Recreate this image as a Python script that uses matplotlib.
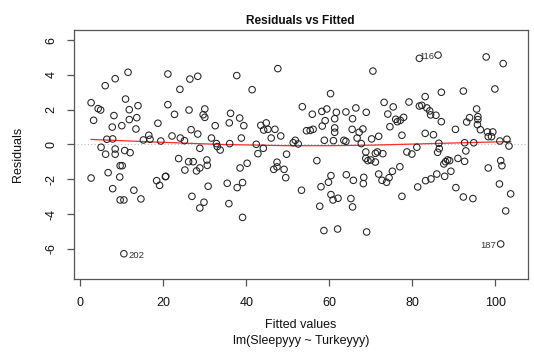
import matplotlib
matplotlib.use("Agg")
import matplotlib.pyplot as plt

plt.rcParams['font.family'] = ['Liberation Sans', 'DejaVu Sans']

# fitted values and residuals (left to right, roughly)
fitted_vals = [
    2.6, 3.2, 4.3, 4.9, 6.0, 6.4, 8.4, 8.1, 7.7, 7.8, 11.5, 10.9, 11.8, 11.8, 10.0,
    13.6, 13.4, 13.9, 15.2, 16.5, 16.8, 18.7, 19.4, 21.1, 21.1, 22.7, 22.1, 24.0,
    24.1, 25.1, 26.4, 28.3, 26.2, 29.6, 30.0, 30.0, 26.7, 28.3, 31.6, 32.5, 32.8,
    37.7, 47.6, 41.4, 60.3, 36.2, 35.9, 38.4, 39.4, 38.8, 36.0, 43.5, 44.8, 44.2,
    45.2, 46.9, 46.0, 48.3, 42.4, 51.8, 51.3, 52.5, 53.5, 55.9, 54.5, 55.4, 56.1,
    58.2, 59.4, 59.0, 58.3, 58.8, 61.3, 61.7, 61.3, 61.3, 61.0, 64.0, 65.6, 66.4,
    65.5, 63.5, 64.0, 66.7, 67.2, 68.1, 68.9, 67.7,
    86.2, 81.7, 97.8, 101.9, 70.5, 87.0, 92.3, 99.9, 83.1, 73.2, 75.4, 79.2, 81.7,
    82.3, 83.5, 84.2, 84.4, 85.7, 87.0, 74.1, 76.0, 76.4, 77.1, 77.9, 74.6, 77.5,
    71.9, 70.2, 83.1, 85.1, 86.4, 90.4, 93.1, 93.8, 95.5, 95.8, 95.8, 95.7, 96.4,
    98.1, 99.4, 98.3, 99.1, 101.1, 102.8, 103.3, 92.6, 94.8,
    5.0, 6.1, 8.4, 8.4, 10.7, 12.0, 9.6, 10.1, 6.7, 2.6, 9.5, 7.8, 9.6, 10.5, 12.9,
    14.6, 10.5, 18.4, 19.1, 20.5, 20.6, 23.7, 25.2, 26.1, 27.2, 28.0, 28.8, 28.8,
    30.5, 30.6, 30.8, 26.9, 29.8, 28.8, 33.0, 33.7, 35.4, 35.8, 38.5, 39.1, 37.8,
    40.2, 39.1, 42.8, 44.1, 46.6, 47.4, 47.4, 49.1, 49.5, 49.7,
    57.0, 53.3, 57.7, 58.0, 58.7, 59.8, 60.4, 60.4, 60.9, 62.1, 62.0, 64.1, 65.2,
    65.6, 65.8, 68.3, 68.2, 68.8, 68.8, 69.3, 70.0, 69.0, 71.1, 71.6, 71.1, 72.9,
    71.9, 72.7, 73.8, 74.4, 75.2, 77.0, 77.5, 78.7, 79.9, 81.1, 81.3, 83.2, 84.5,
    85.9, 87.8, 89.3, 86.1, 86.5, 87.6, 88.0, 88.5, 89.0, 91.0, 92.6, 92.9, 90.5,
    92.3, 94.6, 98.3, 101.3, 101.6, 101.0, 103.7, 102.5, 101.3,
]
resid_vals = [
    2.40, 1.39, 2.06, 1.98, 3.38, 0.30, 3.78, 1.66, 1.00, 0.32, 4.15, 2.61, 2.00, 1.43, 1.08,
    1.54, 0.89, 2.23, 0.26, 0.53, 0.30, 1.22, 0.20, 4.05, 2.29, 1.73, 0.49, 3.17,
    0.37, 0.22, 3.76, 3.92, 1.98, 1.71, 1.56, 2.04, 0.85, 0.60, 0.37, 1.08, 0.05,
    3.96, 4.36, 3.15, 2.92, 1.79, 1.24, 1.52, 1.08, 0.37, 0.05, 1.10, 1.24, 0.83,
    0.87, 0.87, 0.37, 0.49, 0.01, 0.24, 0.10, 0.03, 2.17, 1.74, 0.79, 0.81, 0.87,
    1.90, 2.04, 1.37, 1.06, 0.24, 1.48, 1.85, 0.95, 0.70, 0.22, 1.87, 1.48, 2.10,
    0.87, 0.24, 0.18, 0.37, 0.70, 0.89, 1.85, 0.05,
    5.14, 4.95, 5.03, 4.65, 4.22, 3.00, 3.07, 3.19, 2.75, 2.42, 2.16, 2.44, 2.21,
    2.25, 2.10, 1.93, 1.70, 1.68, 1.31, 1.75, 1.45, 1.31, 1.39, 1.56, 1.02, 0.53,
    0.47, 0.32, 0.64, 0.56, 0.07, 0.87, 1.29, 1.54, 2.04, 1.60, 1.43, 1.14, 0.85,
    0.72, 0.72, 0.45, 0.45, 0.20, 0.30, -0.09, 0.10, 0.10,
    -0.16, -0.56, -0.26, -0.56, -0.35, -0.47, -1.22, -1.22, -1.62, -1.93, -1.87, -2.54, -3.19, -3.19, -2.63,
    -3.13, -6.28, -2.08, -2.35, -1.85, -1.83, -0.81, -1.47, -0.99, -0.99, -1.52, -1.35, -0.22,
    -0.89, -1.20, -2.40, -2.98, -3.32, -3.65, -0.12, -0.32, -2.23, -3.40, -1.35, -2.19, -2.48,
    -1.08, -4.19, -0.53, -0.22, -1.43, -1.02, -1.29, -1.43, -1.91, -0.56,
    -0.93, -2.63, -3.55, -2.43, -4.95, -2.17, -1.79, -2.88, -3.19, -3.09, -4.86, -1.74, -3.11,
    -3.59, -2.06, -1.89, -2.25, -0.43, -0.80, -0.93, -0.89, -5.03, -0.51, -0.43, -1.01, -0.53,
    -1.70, -2.06, -2.17, -1.91, -1.54, -1.28, -2.98, -0.43, -0.55, -0.16, -2.44, -2.08, -1.98,
    -1.70, -1.83, -1.54, -0.45, -0.24, -1.12, -0.99, -0.89, -0.93, -0.80, -0.97, -0.37, -2.48,
    -3.02, -3.11, -1.35, -0.93, -1.22, -2.27, -2.84, -3.82, -5.72,
]

# lowess smoother (red line)
smooth_x = [2.6, 18, 34, 50, 60, 70, 86, 103.7]
smooth_y = [0.29, 0.14, 0.0, -0.07, -0.07, -0.04, 0.06, 0.17]

# labelled observations
id_labels = ["202", "187", "116"]
id_fitted = [10.5, 101.3, 86.2]
id_resid = [-6.28, -5.72, 5.14]

x_ticks = [0, 20, 40, 60, 80, 100]
y_ticks = [-6, -4, -2, 0, 2, 4, 6]

W, H = 534, 360
fig = plt.figure(figsize=(W / 100, H / 100), dpi=100)
# box in pixels: left 74, right 527.5, top 30, bottom 279.3
ax = fig.add_axes([74 / W, (H - 279.3) / H, (527.5 - 74) / W, (279.3 - 30) / H])

ax.axhline(0, color='#bdbdbd', lw=0.8, ls=(0, (1, 2)), zorder=1)
ax.scatter(fitted_vals, resid_vals, s=22, facecolors='none', edgecolors='#222222',
           linewidths=0.75, zorder=3)
ax.plot(smooth_x, smooth_y, color='#ff2a2a', lw=0.9, zorder=2)

for lab, fx, ry in zip(id_labels, id_fitted, id_resid):
    # R puts the id to the right on the left half, to the left on the right half
    if fx < 52:
        ax.annotate(lab, (fx, ry), xytext=(3, -1), textcoords='offset points',
                    ha='left', va='center', fontsize=6.8, color='#333333')
    else:
        ax.annotate(lab, (fx, ry), xytext=(-3, -1), textcoords='offset points',
                    ha='right', va='center', fontsize=6.8, color='#333333')

ax.set_xlim(-1.52, 107.76)
ax.set_ylim(-7.75, 6.58)
ax.set_xticks(x_ticks)
ax.set_yticks(y_ticks)
ax.set_yticklabels([str(v) for v in y_ticks], rotation=90, va='center')

for sp in ax.spines.values():
    sp.set_color('#555555')
    sp.set_linewidth(0.9)
ax.tick_params(direction='out', length=5, width=0.9, color='#555555',
               labelsize=9, pad=8, labelcolor='#111111')
ax.tick_params(axis='y', pad=7)

ax.set_title("Residuals vs Fitted", fontsize=8.6, fontweight='bold', pad=4, color='#111111')
ax.set_xlabel("Fitted values\nlm(Sleepyyy ~ Turkeyyy)", fontsize=9, linespacing=1.45,
              color='#111111')
ax.set_ylabel("Residuals", fontsize=9, color='#111111')
ax.xaxis.set_label_coords(0.5, -0.158)
ax.yaxis.set_label_coords(-0.11, 0.5)

fig.savefig("out.png", dpi=100)
